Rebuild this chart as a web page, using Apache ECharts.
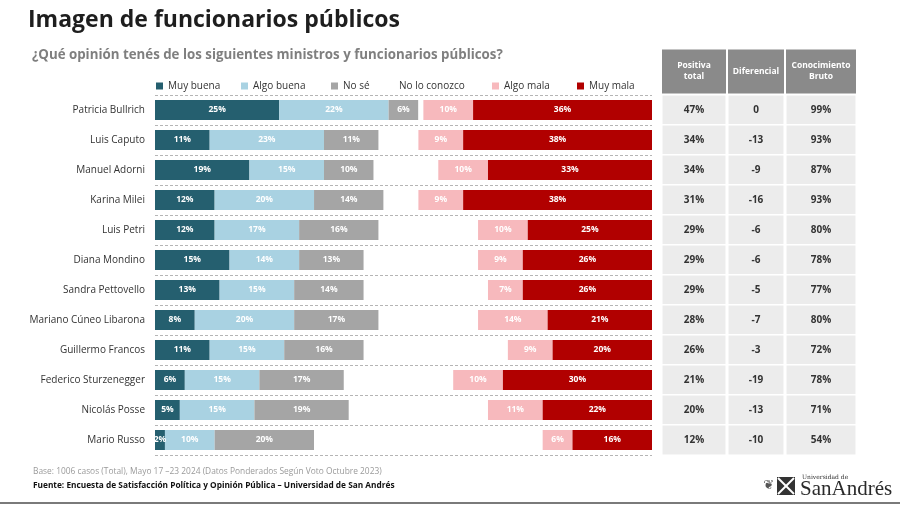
<!DOCTYPE html>
<html>
<head>
<meta charset="utf-8">
<script src="https://cdn.jsdelivr.net/npm/echarts@6/dist/echarts.min.js"></script>
<style>
html,body{margin:0;padding:0;background:#fff;}
#chart{width:900px;height:505px;}
</style>
</head>
<body>
<div id="chart"></div>
<script>
const categories = ["Patricia Bullrich","Luis Caputo","Manuel Adorni","Karina Milei","Luis Petri","Diana Mondino","Sandra Pettovello","Mariano Cúneo Libarona","Guillermo Francos","Federico Sturzenegger","Nicolás Posse","Mario Russo"];
const muyBuena   = [25,11,19,12,12,15,13, 8,11, 6, 5, 2];
const algoBuena  = [22,23,15,20,17,14,15,20,15,15,15,10];
const noSe       = [ 6,11,10,14,16,13,14,17,16,17,19,20];
const noConoce   = [ 1, 8,13, 7,20,23,25,20,29,22,28,46];
const algoMala   = [10, 9,10, 9,10, 9, 7,14, 9,10,11, 6];
const muyMala    = [36,38,33,38,25,26,26,21,20,30,22,16];
const positivaTotal = [47,34,34,31,29,29,29,28,26,21,20,12];
const diferencial   = [0,-13,-9,-16,-6,-6,-5,-7,-3,-19,-13,-10];
const conocimiento  = [99,93,87,93,80,78,77,80,72,78,71,54];
const seriesNames = ["Muy buena","Algo buena","No sé","No lo conozco","Algo mala","Muy mala"];
const tableHeaders = ["Positiva\ntotal","Diferencial","Conocimiento\nBruto"];

const colors = ["#255f6f","#a9d2e2","#a5a5a5","#ffffff","#f7b9bd","#b10000"];
const FONT = "Open Sans";

const chart = echarts.init(document.getElementById('chart'), null, {renderer:'canvas'});

const barData = [muyBuena, algoBuena, noSe, noConoce, algoMala, muyMala];
const barSeries = barData.map((arr, i) => ({
  name: seriesNames[i],
  type: 'bar',
  stack: 'total',
  xAxisIndex: 0, yAxisIndex: 0,
  barWidth: 20,
  data: arr,
  itemStyle: {color: colors[i]},
  label: {
    show: i !== 3,
    position: 'inside',
    color: '#ffffff',
    fontFamily: FONT,
    fontWeight: 'bold',
    fontSize: 8.5,
    formatter: p => p.value + '%'
  },
  emphasis: {disabled: true}
}));

const colDefs = [
  {left: 662, width: 64, vals: positivaTotal, fmt: v => v + '%'},
  {left: 728, width: 56, vals: diferencial, fmt: v => String(v)},
  {left: 786, width: 70, vals: conocimiento, fmt: v => v + '%'}
];

const grids = [{left: 155, width: 497, top: 95, height: 360}];
const xAxes = [{type: 'value', min: 0, max: 100, show: false, gridIndex: 0}];
const yAxes = [{
  type: 'category', data: categories, inverse: true, gridIndex: 0,
  axisLine: {show: false}, axisTick: {show: false},
  axisLabel: {color: '#333', fontFamily: FONT, fontSize: 10, margin: 10},
  splitLine: {show: true, lineStyle: {color: '#b5b5b5', type: [3,2], width: 1}}
}];
const tableSeries = [];
colDefs.forEach((c, k) => {
  const gi = k + 1;
  const lines = tableHeaders[k].split('\n').length;
  const pad = (44 - lines * 11) / 2;
  grids.push({left: c.left, width: c.width, top: 95, height: 360});
  xAxes.push({
    type: 'category', data: [tableHeaders[k]], gridIndex: gi, position: 'top',
    axisLine: {show: false}, axisTick: {show: false},
    axisLabel: {
      color: '#ffffff', fontFamily: FONT, fontWeight: 'bold', fontSize: 8.5,
      lineHeight: 11, backgroundColor: '#8a8a8a', width: c.width,
      align: 'center', verticalAlign: 'bottom', margin: 1.5, padding: [pad,0,pad,0],
      interval: 0
    }
  });
  yAxes.push({type: 'category', data: categories, inverse: true, gridIndex: gi, show: false});
  tableSeries.push({
    type: 'heatmap', xAxisIndex: gi, yAxisIndex: gi,
    data: c.vals.map((v, r) => [0, r, v]),
    itemStyle: {color: '#ececec', borderColor: '#ffffff', borderWidth: 1.5},
    label: {show: true, color: '#333', fontFamily: FONT, fontWeight: 'bold', fontSize: 10,
      formatter: p => c.fmt(p.value[2])},
    emphasis: {disabled: true}
  });
});

const legendPos = [156, 241, 331, 387, 492, 577];
const legends = seriesNames.map((n, i) => ({
  data: [{name: n, icon: 'rect'}],
  left: legendPos[i], top: 81, padding: 0,
  itemWidth: 7, itemHeight: 7, itemGap: 4,
  selectedMode: false,
  textStyle: {color: '#333', fontFamily: FONT, fontSize: 10}
}));

chart.setOption({
  animation: false,
  backgroundColor: '#ffffff',
  title: [
    {text: 'Imagen de funcionarios públicos', left: 28, top: 9, padding: 0,
      textStyle: {fontFamily: FONT, fontWeight: 'bold', fontSize: 23, color: '#1e1e1e'}},
    {text: '¿Qué opinión tenés de los siguientes ministros y funcionarios públicos?', left: 32, top: 49, padding: 0,
      textStyle: {fontFamily: FONT, fontWeight: 'bold', fontSize: 13.3, color: '#7f7f7f'}},
    {text: 'Base: 1006 casos (Total), Mayo 17 –23 2024 (Datos Ponderados Según Voto Octubre 2023)', left: 33, top: 468, padding: 0,
      textStyle: {fontFamily: FONT, fontWeight: 'normal', fontSize: 8.4, color: '#9a9a9a'}},
    {text: 'Fuente: Encuesta de Satisfacción Política y Opinión Pública – Universidad de San Andrés', left: 33, top: 482, padding: 0,
      textStyle: {fontFamily: FONT, fontWeight: 'bold', fontSize: 8.3, color: '#111'}}
  ],
  legend: legends,
  grid: grids,
  xAxis: xAxes,
  yAxis: yAxes,
  series: barSeries.concat(tableSeries),
  graphic: [
    {type: 'line', shape: {x1: 0, y1: 503, x2: 900, y2: 503}, style: {stroke: '#7a7a7a', lineWidth: 2}},
    {type: 'text', left: 802, top: 474, style: {text: 'Universidad de', fill: '#333', font: '6px "DejaVu Serif"'}},
    {type: 'text', left: 800, top: 479, style: {text: 'SanAndrés', fill: '#2a2a2a', font: '21px "Liberation Serif"'}},
    {type: 'rect', shape: {x: 777, y: 477, width: 18, height: 18}, style: {fill: '#333'}},
    {type: 'line', shape: {x1: 778, y1: 478, x2: 794, y2: 494}, style: {stroke: '#fff', lineWidth: 2}},
    {type: 'line', shape: {x1: 794, y1: 478, x2: 778, y2: 494}, style: {stroke: '#fff', lineWidth: 2}},
    {type: 'text', left: 763, top: 479, style: {text: '❦', fill: '#555', font: '13px "DejaVu Sans"'}}
  ]
});
</script>
</body>
</html>
